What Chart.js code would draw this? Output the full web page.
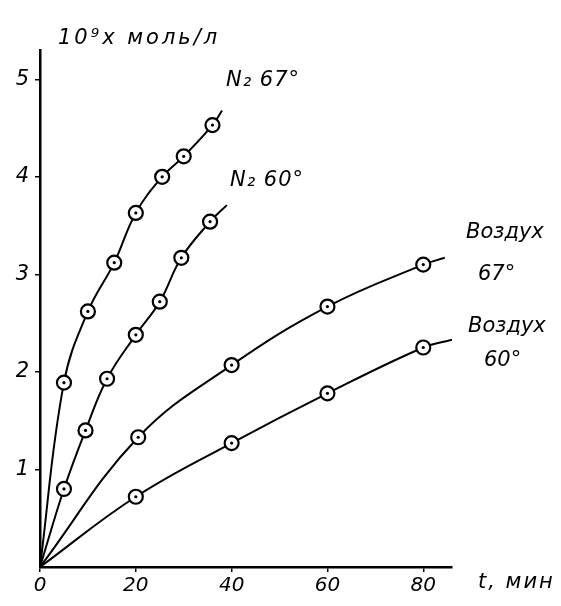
<!DOCTYPE html>
<html lang="ru">
<head>
<meta charset="UTF-8">
<title>Накопление продукта</title>
<script src="https://cdn.jsdelivr.net/npm/chart.js"></script>
<style>
  html, body { margin: 0; padding: 0; background: #fff; }
  #wrap { width: 561px; height: 606px; }
</style>
</head>
<body>
<div id="wrap"><canvas id="grafico" width="561" height="606"></canvas></div>
<script>
// время, мин и концентрация, 10^9 x моль/л
const tN2_67 = [0, 5, 10, 15.5, 20, 25.5, 30, 36, 38];
const cN2_67 = [0, 1.89, 2.62, 3.12, 3.63, 4.0, 4.21, 4.53, 4.68];

const tN2_60 = [0, 5, 9.5, 14, 20, 25, 29.5, 35.5, 39];
const cN2_60 = [0, 0.8, 1.4, 1.93, 2.38, 2.72, 3.17, 3.54, 3.71];

const tAir_67 = [0, 20.5, 40, 60, 80, 84.5];
const cAir_67 = [0, 1.33, 2.07, 2.67, 3.1, 3.17];

const tAir_60 = [0, 20, 40, 60, 80, 86];
const cAir_60 = [0, 0.72, 1.27, 1.78, 2.25, 2.33];

const xTicks = [0, 20, 40, 60, 80];
const yTicks = [1, 2, 3, 4, 5];

const fuente = "'DejaVu Sans', sans-serif";

function puntos(t, c) {
    return t.map((v, i) => ({ x: v, y: c[i] }));
}

// первая и последняя точки - только продолжение линии, без кружка
function radio(ctx) {
    const n = ctx.dataset.data.length;
    return (ctx.dataIndex === 0 || ctx.dataIndex === n - 1) ? 0 : 7;
}

function serie(t, c) {
    return {
        data: puntos(t, c),
        borderColor: "#000",
        borderWidth: 2,
        backgroundColor: "#fff",
        pointBackgroundColor: "#fff",
        pointBorderColor: "#000",
        pointBorderWidth: 2.2,
        pointRadius: radio,
        pointHoverRadius: radio,
        tension: 0.4,
        fill: false
    };
}

// точка в центре каждого кружка
const puntoCentral = {
    id: "puntoCentral",
    afterDatasetsDraw(chart) {
        const ctx = chart.ctx;
        ctx.save();
        ctx.fillStyle = "#000";
        chart.data.datasets.forEach((ds, i) => {
            const meta = chart.getDatasetMeta(i);
            const n = meta.data.length;
            meta.data.forEach((p, j) => {
                if (j === 0 || j === n - 1) return;
                ctx.beginPath();
                ctx.arc(p.x, p.y, 1.6, 0, Math.PI * 2);
                ctx.fill();
            });
        });
        ctx.restore();
    }
};

// подписи кривых и осей
const textos = {
    id: "textos",
    afterDraw(chart) {
        const ctx = chart.ctx;
        ctx.save();
        ctx.fillStyle = "#000";
        ctx.textBaseline = "alphabetic";
        ctx.textAlign = "left";
        ctx.font = "italic 21px " + fuente;
        ctx.letterSpacing = "3px";
        ctx.fillText("10⁹x моль/л", 58, 44);
        ctx.letterSpacing = "1px";
        ctx.fillText("N₂ 67°", 226, 86);
        ctx.fillText("N₂ 60°", 230, 186);
        ctx.letterSpacing = "0px";
        ctx.fillText("Воздух", 466, 238);
        ctx.fillText("67°", 478, 280);
        ctx.fillText("Воздух", 468, 332);
        ctx.fillText("60°", 484, 366);
        ctx.letterSpacing = "2px";
        ctx.fillText("t, мин", 478, 588);
        ctx.restore();
    }
};

new Chart(document.getElementById("grafico"), {
    type: "line",
    data: {
        datasets: [
            serie(tN2_67, cN2_67),
            serie(tN2_60, cN2_60),
            serie(tAir_67, cAir_67),
            serie(tAir_60, cAir_60)
        ]
    },
    options: {
        responsive: false,
        animation: false,
        layout: { padding: { top: 50, right: 109, left: 0, bottom: 0 } },
        plugins: {
            legend: { display: false },
            tooltip: { enabled: false }
        },
        scales: {
            x: {
                type: "linear",
                min: 0,
                max: 86,
                afterBuildTicks(scale) {
                    scale.ticks = xTicks.map(v => ({ value: v }));
                },
                afterFit(scale) { scale.height = 39; },
                border: { display: true, color: "#000", width: 2.5 },
                grid: { drawOnChartArea: false, drawTicks: true, tickLength: 5, color: "#000", lineWidth: 1.5 },
                ticks: {
                    color: "#000",
                    padding: 2,
                    maxRotation: 0,
                    font: { family: fuente, size: 20, style: "italic" },
                    callback: v => String(v)
                }
            },
            y: {
                min: 0,
                max: 5.3,
                afterBuildTicks(scale) {
                    scale.ticks = yTicks.map(v => ({ value: v }));
                },
                afterFit(scale) { scale.width = 40; },
                border: { display: true, color: "#000", width: 2.5 },
                grid: { drawOnChartArea: false, drawTicks: true, tickLength: 5, color: "#000", lineWidth: 1.5 },
                ticks: {
                    color: "#000",
                    padding: 6,
                    font: { family: fuente, size: 21, style: "italic" },
                    callback: v => String(v)
                }
            }
        }
    },
    plugins: [puntoCentral, textos]
});
</script>
</body>
</html>
